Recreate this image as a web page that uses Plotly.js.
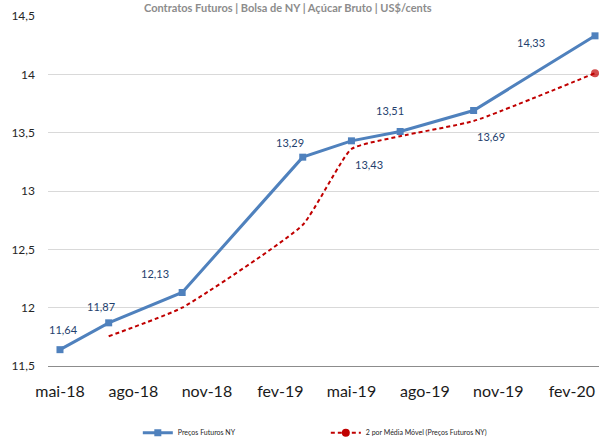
<!DOCTYPE html>
<html>
<head>
<meta charset="utf-8">
<script src="https://cdn.plot.ly/plotly-3.0.1.min.js"></script>
<style>html,body{margin:0;padding:0;background:#fff;}#chart{width:599px;height:438px;}</style>
</head>
<body>
<div id="chart"></div>
<script>
// Contract months (dates) and values
var dates = ['2018-05-01','2018-07-01','2018-10-01','2019-03-01','2019-05-01','2019-07-01','2019-10-01','2020-03-01'];
var precos = [11.64, 11.87, 12.13, 13.29, 13.43, 13.51, 13.69, 14.33];
var mediaMovel = [null, 11.755, 12.00, 12.71, 13.36, 13.47, 13.60, 14.01];
var tickDates = ['2018-05-01','2018-08-01','2018-11-01','2019-02-01','2019-05-01','2019-08-01','2019-11-01','2020-02-01'];
var tickLabels = ['mai-18','ago-18','nov-18','fev-19','mai-19','ago-19','nov-19','fev-20'];
var titleText = 'Contratos Futuros | Bolsa de NY | Açúcar Bruto | US$/cents';
var serie1Name = 'Preços Futuros NY';
var serie2Name = '2 por Média Móvel (Preços Futuros NY)';

// label offsets (px) for the data labels
var labelShiftX = [4, -8, -27, -13, 18, -10, 17, -64];
var labelShiftY = [20, 16, 19, 15, -24, 21, -26, -7];

var blue = '#4F81BD';
var red = '#C00000';

var maMarkerSize = mediaMovel.map(function(v, i){ return i === mediaMovel.length - 1 ? 8 : 0; });

var traces = [
  {
    x: dates, y: precos, type: 'scatter', mode: 'lines+markers', name: serie1Name,
    line: {color: blue, width: 3},
    marker: {symbol: 'square', size: 7, color: blue},
    hoverinfo: 'skip'
  },
  {
    x: dates, y: mediaMovel, type: 'scatter', mode: 'lines+markers', name: serie2Name,
    line: {color: red, width: 2, dash: '4px,3px', shape: 'spline', smoothing: 0.45},
    marker: {symbol: 'circle', size: maMarkerSize, color: red, line: {width: 0}},
    connectgaps: false, showlegend: false, hoverinfo: 'skip'
  },
  {
    x: [null], y: [null], type: 'scatter', mode: 'lines+markers', name: serie2Name,
    line: {color: red, width: 2, dash: '4px,3px'},
    marker: {symbol: 'circle', size: 8, color: red}
  }
];

function fmt(v){ return v.toFixed(2).replace('.', ','); }

var annotations = precos.map(function(v, i){
  return {
    x: dates[i], y: v, xref: 'x', yref: 'y', text: fmt(v), showarrow: false,
    xshift: labelShiftX[i], yshift: labelShiftY[i],
    font: {family: 'Lato, sans-serif', size: 11, color: '#1F3F6E'}
  };
});
annotations.push({
  xref: 'paper', yref: 'paper', x: 0.435, y: 1.0257, yanchor: 'middle', xanchor: 'center',
  text: '<b>' + titleText + '</b>', showarrow: false,
  font: {family: 'Lato, sans-serif', size: 11, color: '#8C8C8C'}
});

var layout = {
  width: 599, height: 438,
  margin: {l: 48, r: 0, t: 16, b: 72, autoexpand: false},
  paper_bgcolor: '#ffffff', plot_bgcolor: '#ffffff',
  separators: ',.',
  showlegend: true,
  legend: {
    orientation: 'h', x: 0.163, xanchor: 'left', yref: 'container', y: 0.012, yanchor: 'middle',
    font: {family: 'Lato, sans-serif', size: 7, color: '#262626'},
    entrywidth: 143, entrywidthmode: 'pixels', bgcolor: 'rgba(0,0,0,0)'
  },
  xaxis: {
    type: 'date', range: ['2018-04-16', '2020-03-06'],
    tickmode: 'array', tickvals: tickDates, ticktext: tickLabels,
    showgrid: false, zeroline: false,
    showline: true, linecolor: '#8C8C8C', linewidth: 1,
    ticks: '', ticklabelstandoff: 11,
    tickfont: {family: 'Lato, sans-serif', size: 16, color: '#1a1a1a'}
  },
  yaxis: {
    range: [11.5, 14.5], dtick: 0.5, tick0: 11.5,
    showgrid: true, gridcolor: '#D9D9D9', gridwidth: 1,
    zeroline: false, showline: false, ticks: '', ticklabelstandoff: 12,
    tickfont: {family: 'Lato, sans-serif', size: 12, color: '#262626'}
  },
  annotations: annotations
};

Plotly.newPlot('chart', traces, layout, {displayModeBar: false, staticPlot: true});
</script>
</body>
</html>
